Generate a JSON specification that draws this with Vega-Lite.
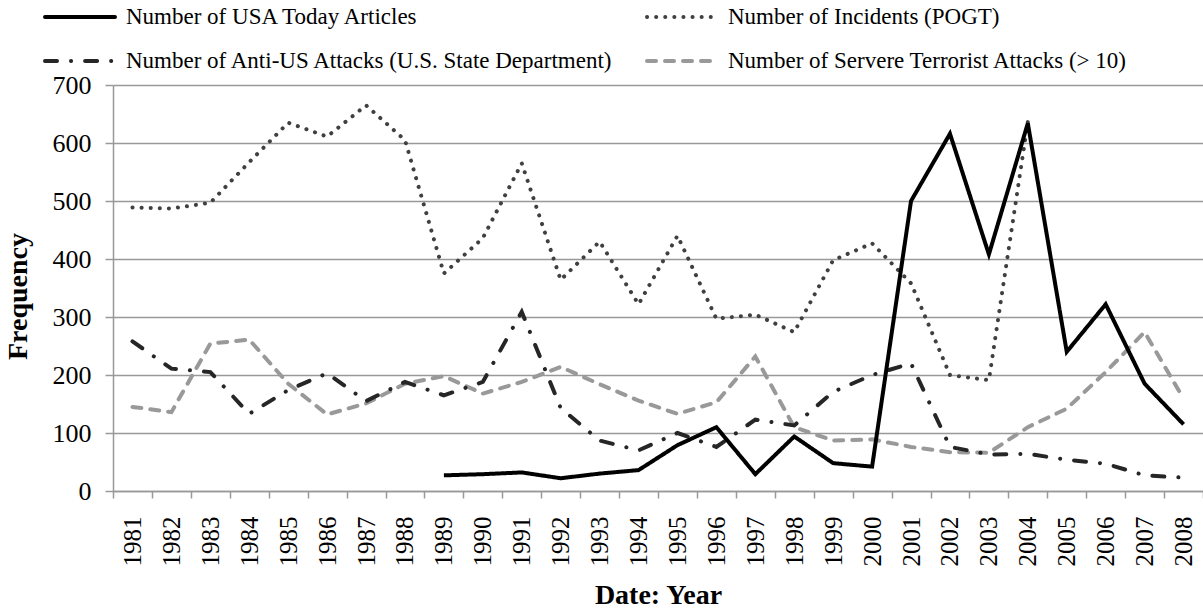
{
  "$schema": "https://vega.github.io/schema/vega-lite/v6.json",
  "width": 1090,
  "height": 406,
  "autosize": "none",
  "padding": {"left": 113, "top": 85, "right": 0, "bottom": 117},
  "background": "white",
  "config": {"font": "Liberation Serif", "view": {"stroke": null}},
  "datasets": {
    "usa": [
      {"year": 1989, "value": 27}, {"year": 1990, "value": 29}, {"year": 1991, "value": 32}, {"year": 1992, "value": 22},
      {"year": 1993, "value": 30}, {"year": 1994, "value": 36}, {"year": 1995, "value": 79}, {"year": 1996, "value": 110},
      {"year": 1997, "value": 29}, {"year": 1998, "value": 94}, {"year": 1999, "value": 48}, {"year": 2000, "value": 42},
      {"year": 2001, "value": 500}, {"year": 2002, "value": 616}, {"year": 2003, "value": 408}, {"year": 2004, "value": 634},
      {"year": 2005, "value": 240}, {"year": 2006, "value": 322}, {"year": 2007, "value": 185}, {"year": 2008, "value": 115}
    ],
    "pogt": [
      {"year": 1981, "value": 489}, {"year": 1982, "value": 487}, {"year": 1983, "value": 497}, {"year": 1984, "value": 567},
      {"year": 1985, "value": 635}, {"year": 1986, "value": 611}, {"year": 1987, "value": 665}, {"year": 1988, "value": 605},
      {"year": 1989, "value": 375}, {"year": 1990, "value": 436}, {"year": 1991, "value": 565}, {"year": 1992, "value": 364},
      {"year": 1993, "value": 430}, {"year": 1994, "value": 322}, {"year": 1995, "value": 440}, {"year": 1996, "value": 297},
      {"year": 1997, "value": 304}, {"year": 1998, "value": 274}, {"year": 1999, "value": 398}, {"year": 2000, "value": 427},
      {"year": 2001, "value": 358}, {"year": 2002, "value": 200}, {"year": 2003, "value": 191}, {"year": 2004, "value": 636}
    ],
    "antius": [
      {"year": 1981, "value": 258}, {"year": 1982, "value": 211}, {"year": 1983, "value": 205}, {"year": 1984, "value": 133},
      {"year": 1985, "value": 174}, {"year": 1986, "value": 203}, {"year": 1987, "value": 155}, {"year": 1988, "value": 188},
      {"year": 1989, "value": 165}, {"year": 1990, "value": 188}, {"year": 1991, "value": 309}, {"year": 1992, "value": 143},
      {"year": 1993, "value": 87}, {"year": 1994, "value": 70}, {"year": 1995, "value": 100}, {"year": 1996, "value": 76},
      {"year": 1997, "value": 123}, {"year": 1998, "value": 113}, {"year": 1999, "value": 171}, {"year": 2000, "value": 200},
      {"year": 2001, "value": 220}, {"year": 2002, "value": 76}, {"year": 2003, "value": 63}, {"year": 2004, "value": 64},
      {"year": 2005, "value": 54}, {"year": 2006, "value": 47}, {"year": 2007, "value": 27}, {"year": 2008, "value": 23}
    ],
    "severe": [
      {"year": 1981, "value": 145}, {"year": 1982, "value": 136}, {"year": 1983, "value": 254}, {"year": 1984, "value": 261},
      {"year": 1985, "value": 185}, {"year": 1986, "value": 132}, {"year": 1987, "value": 151}, {"year": 1988, "value": 185},
      {"year": 1989, "value": 198}, {"year": 1990, "value": 168}, {"year": 1991, "value": 188}, {"year": 1992, "value": 214},
      {"year": 1993, "value": 184}, {"year": 1994, "value": 156}, {"year": 1995, "value": 133}, {"year": 1996, "value": 153},
      {"year": 1997, "value": 232}, {"year": 1998, "value": 110}, {"year": 1999, "value": 87}, {"year": 2000, "value": 89},
      {"year": 2001, "value": 76}, {"year": 2002, "value": 67}, {"year": 2003, "value": 66}, {"year": 2004, "value": 110},
      {"year": 2005, "value": 142}, {"year": 2006, "value": 205}, {"year": 2007, "value": 274}, {"year": 2008, "value": 159}
    ]
  },
  "data": {"values": []},
  "layer": [
    {"data": {"name": "severe"}, "mark": {"type": "line", "strokeWidth": 4, "strokeCap": "round", "strokeJoin": "miter"},
     "encoding": {
       "x": {"field": "year", "type": "ordinal", "bandPosition": 0.5},
       "y": {"field": "value", "type": "quantitative"},
       "color": {"datum": "Number of Servere Terrorist Attacks (> 10)"},
       "strokeDash": {"datum": "Number of Servere Terrorist Attacks (> 10)"}
     }},
    {"data": {"name": "antius"}, "mark": {"type": "line", "strokeWidth": 4, "strokeCap": "round", "strokeJoin": "miter"},
     "encoding": {
       "x": {"field": "year", "type": "ordinal", "bandPosition": 0.5},
       "y": {"field": "value", "type": "quantitative"},
       "color": {"datum": "Number of Anti-US Attacks (U.S. State Department)"},
       "strokeDash": {"datum": "Number of Anti-US Attacks (U.S. State Department)"}
     }},
    {"data": {"name": "pogt"}, "mark": {"type": "line", "strokeWidth": 4, "strokeCap": "round", "strokeJoin": "miter"},
     "encoding": {
       "x": {"field": "year", "type": "ordinal", "bandPosition": 0.5},
       "y": {"field": "value", "type": "quantitative"},
       "color": {"datum": "Number of Incidents (POGT)"},
       "strokeDash": {"datum": "Number of Incidents (POGT)"}
     }},
    {"data": {"name": "usa"}, "mark": {"type": "line", "strokeWidth": 4, "strokeCap": "butt", "strokeJoin": "miter"},
     "encoding": {
       "x": {"field": "year", "type": "ordinal", "bandPosition": 0.5,
         "scale": {"type": "band", "paddingInner": 0, "paddingOuter": 0, "domain": [1981,1982,1983,1984,1985,1986,1987,1988,1989,1990,1991,1992,1993,1994,1995,1996,1997,1998,1999,2000,2001,2002,2003,2004,2005,2006,2007,2008]},
         "axis": {"title": "Date: Year", "labelAngle": 270, "labelAlign": "right", "labelBaseline": "middle", "tickBand": "extent", "grid": false,
           "domainColor": "#999999", "domainWidth": 1.5, "tickColor": "#999999", "tickWidth": 1.5, "tickSize": 7,
           "labelFont": "Liberation Serif", "labelFontSize": 25, "labelColor": "black", "labelPadding": 18,
           "titleFont": "Liberation Serif", "titleFontSize": 28, "titleFontWeight": "bold", "titleColor": "black", "titleY": 112, "titleBaseline": "alphabetic"}},
       "y": {"field": "value", "type": "quantitative",
         "scale": {"domain": [0, 700], "nice": false},
         "axis": {"title": "Frequency", "values": [0,100,200,300,400,500,600,700], "grid": true, "gridColor": "#999999", "gridWidth": 1.5,
           "domainColor": "#999999", "domainWidth": 1.5, "tickColor": "#999999", "tickWidth": 1.5, "tickSize": 8,
           "labelFont": "Liberation Serif", "labelFontSize": 26, "labelColor": "black", "labelPadding": 14,
           "titleFont": "Liberation Serif", "titleFontSize": 28, "titleFontWeight": "bold", "titleColor": "black",
           "titleX": -87, "titleY": 211, "titleBaseline": "alphabetic", "titleAngle": 270}},
       "color": {"datum": "Number of USA Today Articles",
         "scale": {"domain": ["Number of USA Today Articles", "Number of Incidents (POGT)", "Number of Anti-US Attacks (U.S. State Department)", "Number of Servere Terrorist Attacks (> 10)"],
                   "range": ["#000000", "#404040", "#262626", "#999999"]},
         "legend": {"orient": "none", "legendX": -70, "legendY": -83, "direction": "horizontal", "columns": 2, "columnPadding": 30, "rowPadding": 14,
           "clipHeight": 30, "symbolType": "stroke", "symbolSize": 4900, "symbolStrokeWidth": 4, "labelFont": "Liberation Serif", "labelFontSize": 23,
           "labelColor": "black", "labelOffset": 9, "labelLimit": 0, "title": null, "padding": 0,
           "encode": {"symbols": {"update": {"strokeCap": {"value": "round"}}}}}},
       "strokeDash": {"datum": "Number of USA Today Articles",
         "scale": {"domain": ["Number of USA Today Articles", "Number of Incidents (POGT)", "Number of Anti-US Attacks (U.S. State Department)", "Number of Servere Terrorist Attacks (> 10)"],
                   "range": [[1, 0], [0.1, 9], [12, 14, 0.1, 14], [9, 9]]},
         "legend": {"orient": "none", "legendX": -70, "legendY": -83, "direction": "horizontal", "columns": 2, "columnPadding": 30, "rowPadding": 14,
           "clipHeight": 30, "symbolType": "stroke", "symbolSize": 4900, "symbolStrokeWidth": 4, "labelFont": "Liberation Serif", "labelFontSize": 23,
           "labelColor": "black", "labelOffset": 9, "labelLimit": 0, "title": null, "padding": 0,
           "encode": {"symbols": {"update": {"strokeCap": {"value": "round"}}}}}}
     }}
  ]
}
